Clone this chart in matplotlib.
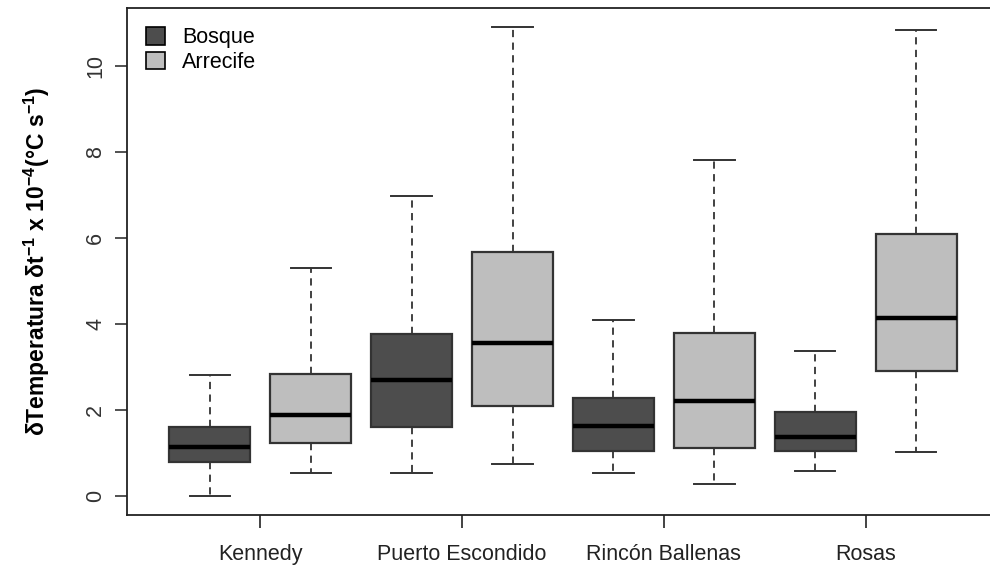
import matplotlib.pyplot as plt
from matplotlib.patches import Patch

# --- DATOS ---
sitios = ["Kennedy", "Puerto Escondido", "Rincón Ballenas", "Rosas"]
grupos = ["Bosque", "Arrecife"]
colores = {"Bosque": "#4d4d4d", "Arrecife": "#bebebe"}

# Bosque
bosque_min = [0.00, 0.53, 0.53, 0.59]
bosque_q1 = [0.79, 1.60, 1.06, 1.06]
bosque_med = [1.14, 2.69, 1.62, 1.38]
bosque_q3 = [1.60, 3.76, 2.28, 1.96]
bosque_max = [2.81, 6.96, 4.10, 3.38]

# Arrecife
arrecife_min = [0.53, 0.74, 0.29, 1.03]
arrecife_q1 = [1.23, 2.09, 1.13, 2.91]
arrecife_med = [1.88, 3.55, 2.20, 4.13]
arrecife_q3 = [2.83, 5.66, 3.78, 6.08]
arrecife_max = [5.29, 10.90, 7.80, 10.83]

y_ticks = [0, 2, 4, 6, 8, 10]

plt.rcParams['font.family'] = ['Liberation Sans', 'DejaVu Sans']
plt.rcParams['mathtext.fontset'] = 'custom'
plt.rcParams['mathtext.rm'] = 'Liberation Sans'
plt.rcParams['mathtext.bf'] = 'Liberation Sans:bold'
plt.rcParams['mathtext.default'] = 'bf'

fig = plt.figure(figsize=(9.9, 5.67), dpi=100)
ax = fig.add_axes([127 / 990, 52 / 567, 872 / 990, 507 / 567])

def stats(lo, q1, med, q3, hi):
    return [dict(whislo=a, q1=b, med=c, q3=d, whishi=e, fliers=[])
            for a, b, c, d, e in zip(lo, q1, med, q3, hi)]

series = {
    "Bosque": stats(bosque_min, bosque_q1, bosque_med, bosque_q3, bosque_max),
    "Arrecife": stats(arrecife_min, arrecife_q1, arrecife_med, arrecife_q3, arrecife_max),
}

borde = "#333333"
for j, g in enumerate(grupos):
    pos = [2 * i + 1 + j for i in range(len(sitios))]
    ax.bxp(series[g], positions=pos, widths=0.8, patch_artist=True,
           showfliers=False,
           boxprops=dict(facecolor=colores[g], edgecolor=borde, linewidth=1.6),
           medianprops=dict(color="black", linewidth=3.2, solid_capstyle="butt"),
           whiskerprops=dict(color=borde, linewidth=1.3, linestyle=(0, (4, 3))),
           capprops=dict(color=borde, linewidth=1.4),
           capwidths=0.4)

ax.set_xlim(0.18, 8.82)
ax.set_ylim(-0.436, 11.336)

ax.set_xticks([2 * i + 1.5 for i in range(len(sitios))])
ax.set_xticklabels(sitios, fontsize=15.5, color="#222222")
ax.set_yticks(y_ticks)
ax.set_yticklabels([str(t) for t in y_ticks], fontsize=15.5, color="#333333",
                   rotation=90, va="center")
ax.tick_params(axis="x", length=9, width=1.2, pad=12, colors="#222222")
ax.tick_params(axis="y", length=9, width=1.2, pad=6, colors="#333333")
for s in ax.spines.values():
    s.set_linewidth(1.3)
    s.set_color("#222222")

ax.set_ylabel(r"δTemperatura δt$^{-1}$ x 10$^{-4}$(°C s$^{-1}$)",
              fontsize=16.5, fontweight="bold", labelpad=24)

handles = [Patch(facecolor=colores[g], edgecolor="black", linewidth=1.2, label=g)
           for g in grupos]
ax.legend(handles=handles, loc="upper left", bbox_to_anchor=(0.0, 1.0),
          frameon=False, fontsize=15.5, handlelength=0.85, handleheight=0.85,
          handletextpad=0.8, labelspacing=0.15, borderaxespad=0.5)

fig.savefig("out.png", dpi=100)
